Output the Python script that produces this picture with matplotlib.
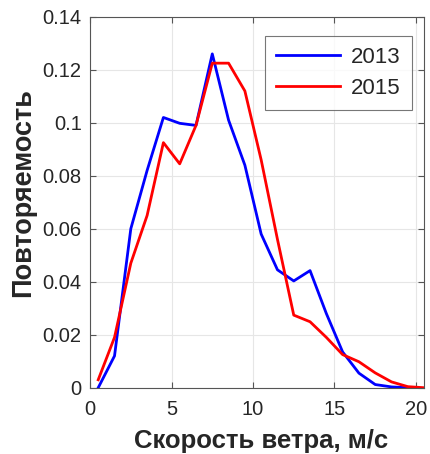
import numpy as np
import matplotlib
matplotlib.use("Agg")
import matplotlib.pyplot as plt

plt.rcParams["font.family"] = ["Liberation Sans", "DejaVu Sans"]

# wind speed bin centres, m/s
speed_2013 = [0.5, 1.5, 2.5, 3.5, 4.5, 5.5, 6.5, 7.5, 8.5, 9.5, 10.5,
              11.5, 12.5, 13.5, 14.5, 15.5, 16.5, 17.5, 18.5, 19.5]
freq_2013 = [0.0, 0.012, 0.060, 0.082, 0.102, 0.0998, 0.099, 0.126, 0.101, 0.084, 0.058,
             0.0445, 0.0403, 0.0442, 0.028, 0.0135, 0.0055, 0.0012, 0.0003, 0.0]

speed_2015 = [0.5, 1.5, 2.5, 3.5, 4.5, 5.5, 6.5, 7.5, 8.5, 9.5, 10.5,
              11.5, 12.5, 13.5, 14.5, 15.5, 16.5, 17.5, 18.5, 19.5, 20.5]
freq_2015 = [0.003, 0.019, 0.047, 0.065, 0.0925, 0.0845, 0.099, 0.1225, 0.1225, 0.112, 0.086,
             0.056, 0.0274, 0.0249, 0.019, 0.0125, 0.0098, 0.0056, 0.0022, 0.0004, 0.0]

x_ticks = [0, 5, 10, 15, 20]
y_ticks = [0, 0.02, 0.04, 0.06, 0.08, 0.1, 0.12, 0.14]
y_ticklabels = ["0", "0.02", "0.04", "0.06", "0.08", "0.1", "0.12", "0.14"]

txt = "#262626"

fig = plt.figure(figsize=(4.31, 4.54), dpi=100)
ax = fig.add_axes([0.209, 0.146, 0.775, 0.817])

ax.plot(speed_2013, freq_2013, color="#0000ff", lw=2, label="2013")
ax.plot(speed_2015, freq_2015, color="#ff0000", lw=2, label="2015")

ax.set_xlim(0, 20.5)
ax.set_ylim(0, 0.14)
ax.set_xticks(x_ticks)
ax.set_yticks(y_ticks)
ax.set_yticklabels(y_ticklabels)
ax.grid(True, color="#e6e6e6", lw=0.8)
ax.set_axisbelow(True)
ax.tick_params(direction="in", top=True, right=True, labelsize=14.5,
               colors="#555555", labelcolor=txt, length=4)
ax.tick_params(axis="x", pad=9)
ax.tick_params(axis="y", pad=6)
for sp in ax.spines.values():
    sp.set_color("#555555")
    sp.set_linewidth(0.8)

ax.set_xlabel("Скорость ветра, м/с", fontsize=18.5, fontweight="bold", color=txt)
ax.xaxis.set_label_coords(0.512, -0.163)
ax.xaxis.label.set_verticalalignment("baseline")
ax.set_ylabel("Повторяемость", fontsize=19.5, fontweight="bold", color=txt, labelpad=5)
ax.yaxis.label.set_y(0.527)

leg = ax.legend(loc="upper right", fontsize=16, frameon=True, fancybox=False,
                edgecolor="#555555", handlelength=2.9, handletextpad=0.5,
                borderpad=0.5, labelspacing=0.45, borderaxespad=0,
                bbox_to_anchor=(0.964, 0.948))
leg.get_frame().set_linewidth(0.8)
for t in leg.get_texts():
    t.set_color(txt)

fig.savefig("out.png", dpi=100)
